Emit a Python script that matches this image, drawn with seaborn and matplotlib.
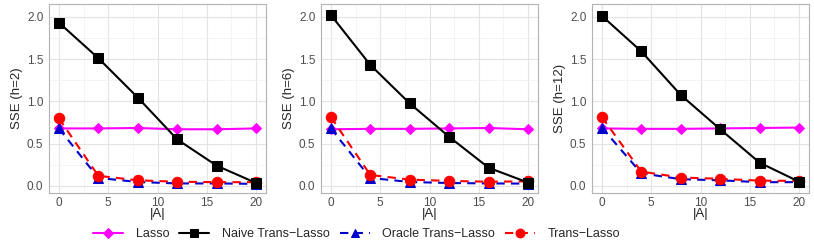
import numpy as np
import pandas as pd
import seaborn as sns
import matplotlib.pyplot as plt
from matplotlib.ticker import MultipleLocator, FormatStrFormatter

# x values (size of informative set |A|)
sizes = [0, 4, 8, 12, 16, 20]
h_values = [2, 6, 12]

# SSE per method, one list per panel (h=2, h=6, h=12)
lasso = [[0.68, 0.68, 0.685, 0.67, 0.67, 0.68],
         [0.67, 0.675, 0.675, 0.68, 0.685, 0.67],
         [0.68, 0.675, 0.675, 0.68, 0.685, 0.69]]
naive = [[1.93, 1.51, 1.045, 0.55, 0.24, 0.035],
         [2.02, 1.43, 0.975, 0.58, 0.215, 0.04],
         [2.01, 1.59, 1.075, 0.67, 0.275, 0.05]]
oracle = [[0.68, 0.095, 0.047, 0.03, 0.03, 0.025],
          [0.68, 0.095, 0.047, 0.035, 0.03, 0.028],
          [0.69, 0.15, 0.08, 0.067, 0.045, 0.045]]
trans = [[0.80, 0.12, 0.067, 0.05, 0.045, 0.045],
         [0.815, 0.13, 0.075, 0.06, 0.05, 0.055],
         [0.815, 0.17, 0.10, 0.085, 0.063, 0.06]]

methods = ["Lasso", "Naive Trans\u2212Lasso", "Oracle Trans\u2212Lasso", "Trans\u2212Lasso"]
colors = {methods[0]: "#FF00FF", methods[1]: "#000000",
          methods[2]: "#0000CD", methods[3]: "#FF0000"}
marks = {methods[0]: "D", methods[1]: "s", methods[2]: "^", methods[3]: "o"}
dash = {methods[0]: None, methods[1]: None, methods[2]: (4, 3), methods[3]: (4, 3)}
msize = {methods[0]: 5.5, methods[1]: 7, methods[2]: 7, methods[3]: 7.5}

rows = []
for i, h in enumerate(h_values):
    for name, vals in zip(methods, [lasso, naive, oracle, trans]):
        for x, v in zip(sizes, vals[i]):
            rows.append({"h": h, "A": x, "SSE": v, "method": name})
df = pd.DataFrame(rows)

sns.set_style("white")
plt.rcParams["font.family"] = ["Liberation Sans", "DejaVu Sans"]

fig = plt.figure(figsize=(8.14, 2.45), dpi=100)
lefts = [49 / 814, 321 / 814, 592 / 814]
draw_order = [methods[0], methods[2], methods[3], methods[1]]

for i, h in enumerate(h_values):
    ax = fig.add_axes([lefts[i], 52 / 245, 217 / 814, 189 / 245])
    sub = df[df["h"] == h]
    for name in draw_order:
        d = sub[sub["method"] == name]
        sns.lineplot(data=d, x="A", y="SSE", ax=ax, color=colors[name],
                     marker=marks[name], markersize=msize[name],
                     markeredgecolor=colors[name], linewidth=1.5,
                     label=name, legend=False)
    ax.set_xlim(-1, 21)
    ax.set_ylim(-0.083, 2.15)
    ax.xaxis.set_major_locator(MultipleLocator(5))
    ax.xaxis.set_minor_locator(MultipleLocator(2.5))
    ax.yaxis.set_major_locator(MultipleLocator(0.5))
    ax.yaxis.set_minor_locator(MultipleLocator(0.25))
    ax.xaxis.set_major_formatter(FormatStrFormatter("%d"))
    ax.yaxis.set_major_formatter(FormatStrFormatter("%.1f"))
    ax.grid(which="major", color="#E3E3E3", linewidth=0.8)
    ax.grid(which="minor", color="#F0F0F0", linewidth=0.5)
    ax.set_axisbelow(True)
    for s in ax.spines.values():
        s.set_color("#B3B3B3")
        s.set_linewidth(0.8)
    ax.tick_params(axis="both", which="major", length=2.5, width=0.6,
                   color="#B3B3B3", labelsize=8.5, labelcolor="#4D4D4D", pad=1.5)
    ax.tick_params(axis="x", which="major", pad=0.5)
    ax.tick_params(which="minor", length=0)
    ax.set_xlabel("|A|", fontsize=9.5, labelpad=-0.5)
    ax.set_ylabel(f"SSE (h={h})", fontsize=9.5, labelpad=3)

    # dashed styles for the transfer methods
    for ln in ax.lines:
        if dash.get(ln.get_label()):
            ln.set_dashes(dash[ln.get_label()])

handles, labels = [], []
for name in methods:
    for ln in fig.axes[0].lines:
        if ln.get_label() == name:
            handles.append(ln)
            labels.append(name)
            break

fig.legend(handles, labels, loc="center left", bbox_to_anchor=(82 / 814, 11 / 245),
           ncol=4, frameon=False, fontsize=9, handlelength=2.4,
           handletextpad=1.0, columnspacing=0.8, markerscale=0.85)

fig.savefig("out.png", dpi=100)
